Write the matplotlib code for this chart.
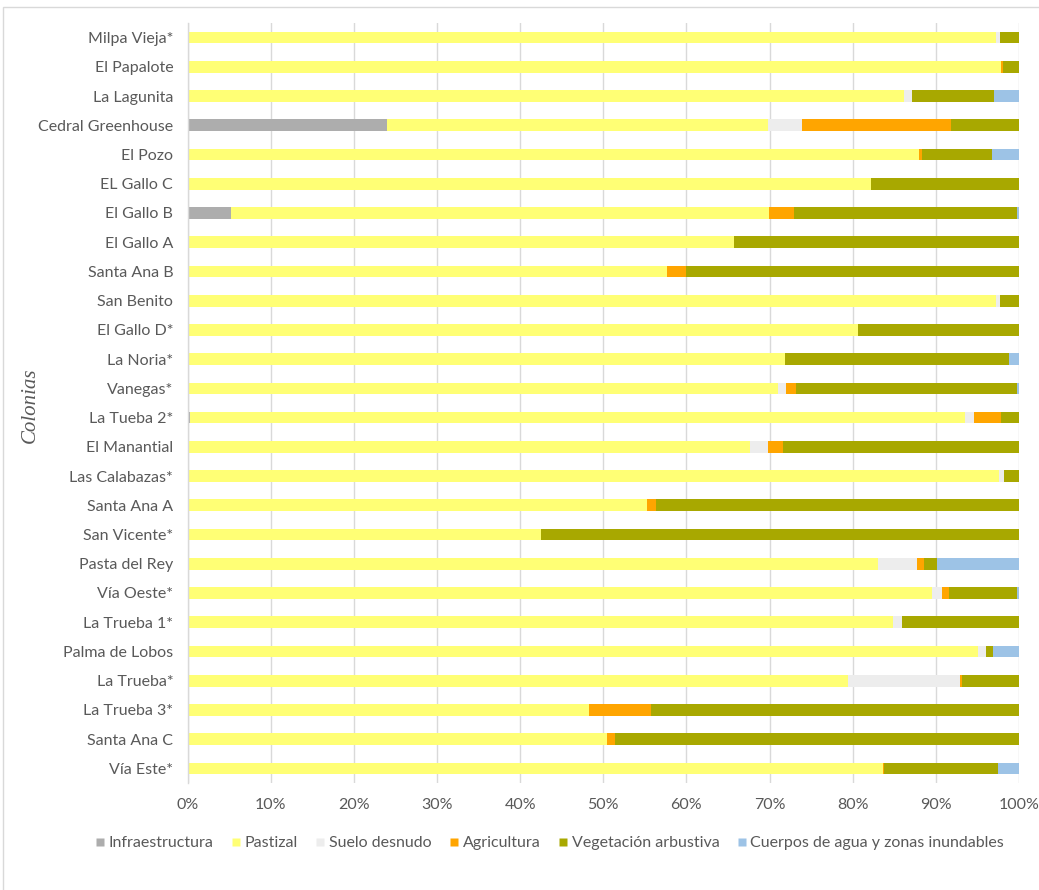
import matplotlib
matplotlib.use("Agg")
import matplotlib.pyplot as plt
from matplotlib.patches import Rectangle
from matplotlib.lines import Line2D
from matplotlib.ticker import PercentFormatter

# Colonias, listed top to bottom
colonias = ["Milpa Vieja*", "El Papalote", "La Lagunita", "Cedral Greenhouse", "El Pozo",
            "EL Gallo C", "El Gallo B", "El Gallo A", "Santa Ana B", "San Benito",
            "El Gallo D*", "La Noria*", "Vanegas*", "La Tueba 2*", "El Manantial",
            "Las Calabazas*", "Santa Ana A", "San Vicente*", "Pasta del Rey", "Vía Oeste*",
            "La Trueba 1*", "Palma de Lobos", "La Trueba*", "La Trueba 3*", "Santa Ana C",
            "Vía Este*"]

# Land cover share per colonia (%)
infraestructura = [0, 0, 0, 24.0, 0, 0, 5.2, 0, 0, 0, 0, 0, 0, 0.3, 0, 0, 0, 0, 0, 0, 0, 0, 0, 0, 0, 0]
pastizal = [97.2, 97.9, 86.2, 45.8, 88.0, 82.2, 64.7, 65.7, 57.7, 97.3, 80.6, 71.9, 71.0, 93.2,
            67.7, 97.6, 55.3, 42.5, 83.1, 89.6, 84.9, 95.1, 79.4, 48.3, 50.4, 83.6]
suelo_desnudo = [0.5, 0, 1.0, 4.1, 0, 0, 0, 0, 0, 0.4, 0, 0, 1.0, 1.1, 2.1, 0.6, 0, 0, 4.7, 1.1,
                 1.0, 0.9, 13.5, 0, 0, 0]
agricultura = [0, 0.2, 0, 18.0, 0.3, 0, 3.0, 0, 2.2, 0, 0, 0, 1.2, 3.2, 1.8, 0, 1.0, 0, 0.8, 0.9,
               0, 0, 0.3, 7.5, 1.0, 0.2]
vegetacion = [2.3, 1.9, 9.8, 8.1, 8.5, 17.8, 26.9, 34.3, 40.1, 2.3, 19.4, 26.9, 26.6, 2.2, 28.4,
              1.8, 43.7, 57.5, 1.6, 8.15, 14.1, 0.9, 6.8, 44.2, 48.6, 13.7]
agua = [0, 0, 3.0, 0, 3.2, 0, 0.2, 0, 0, 0, 0, 1.2, 0.2, 0, 0, 0, 0, 0, 9.8, 0.25, 0, 3.1, 0, 0, 0, 2.5]

series = [
    ("Infraestructura", infraestructura, "#ADADAD"),
    ("Pastizal", pastizal, "#FFFF75"),
    ("Suelo desnudo", suelo_desnudo, "#EDEDED"),
    ("Agricultura", agricultura, "#FFA500"),
    ("Vegetación arbustiva", vegetacion, "#A8A800"),
    ("Cuerpos de agua y zonas inundables", agua, "#9DC3E6"),
]

plt.rcParams["font.family"] = ["Lato", "DejaVu Sans"]
text_color = "#595959"
fs = 11.5

W, H = 1039, 890
fig = plt.figure(figsize=(W / 100, H / 100), dpi=100)
ax = fig.add_axes([187.8 / W, 1 - 783 / H, 831 / W, 760 / H])

y = list(range(len(colonias)))
left = [0.0] * len(colonias)
handles = []
for name, vals, color in series:
    ax.barh(y, vals, left=left, height=0.4, color=color, edgecolor="none", zorder=2)
    left = [l + v for l, v in zip(left, vals)]
    handles.append(Line2D([], [], marker="s", linestyle="none", markersize=5.5,
                          markerfacecolor=color, markeredgecolor="none", label=name))

ax.set_xlim(0, 100)
ax.set_ylim(len(colonias) - 0.5, -0.5)
ax.set_xticks(range(0, 101, 10))
ax.xaxis.set_major_formatter(PercentFormatter(decimals=0))
ax.set_yticks(y)
ax.set_yticklabels(colonias)
ax.tick_params(axis="both", length=0, colors=text_color, labelsize=fs)
ax.tick_params(axis="x", pad=11)
ax.tick_params(axis="y", pad=10.5)
ax.grid(axis="x", color="#D9D9D9", linewidth=1, zorder=0)
for side in ["top", "right", "bottom"]:
    ax.spines[side].set_visible(False)
ax.spines["left"].set_color("#D9D9D9")
ax.spines["left"].set_linewidth(1)

fig.text(30 / W, 1 - 405 / H, "Colonias", rotation=90, ha="center", va="center",
         family="Liberation Serif", style="italic", fontsize=15, color=text_color)

fig.legend(handles=handles, loc="center", bbox_to_anchor=(548 / W, 1 - 843 / H), ncol=6,
           frameon=False, fontsize=fs, labelcolor=text_color, handletextpad=0.05,
           handlelength=1.0, columnspacing=0.9, borderaxespad=0)

# outer chart-area frame
fig.add_artist(Rectangle((3 / W, -0.1), 1.2, 1.1 - 7 / H, transform=fig.transFigure,
                         fill=False, edgecolor="#D9D9D9", linewidth=1))

fig.savefig("out.png", dpi=100, facecolor="white")
